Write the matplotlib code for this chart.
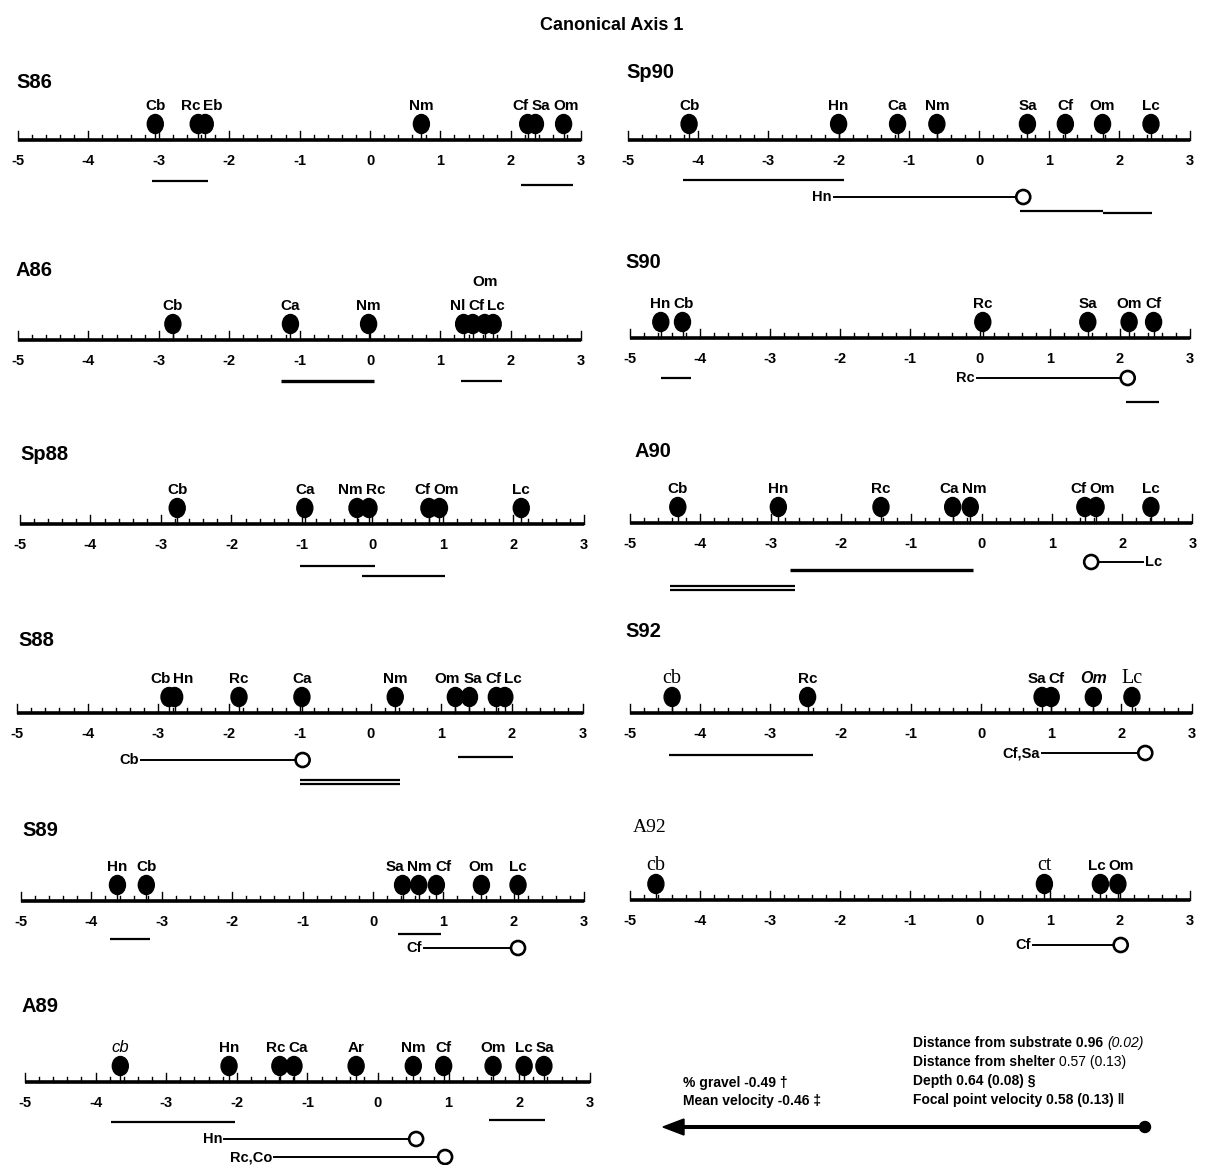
import matplotlib
matplotlib.use("Agg")
import matplotlib.pyplot as plt
from matplotlib.patches import Ellipse, Polygon
import numpy as np

W, H, DPI = 1216, 1165, 100
plt.rcParams['font.family'] = ['Liberation Sans', 'DejaVu Sans']

# ------------------------------------------------------------------ data
tick_values = [-5, -4, -3, -2, -1, 0, 1, 2, 3]
tick_labels = ["-5", "-4", "-3", "-2", "-1", "0", "1", "2", "3"]

S86_species = ["Cb", "Rc", "Eb", "Nm", "Cf", "Sa", "Om"]
S86_scores = [-3.05, -2.44, -2.34, 0.73, 2.24, 2.35, 2.75]
S86_groups = [(-3.1, -2.3), (2.15, 2.88)]
S86_links = []

A86_species = ["Cb", "Ca", "Nm", "Nl", "Cf", "Om", "Lc"]
A86_scores = [-2.80, -1.13, -0.02, 1.33, 1.46, 1.63, 1.75]
A86_groups = [(-1.27, 0.06), (1.29, 1.87)]
A86_links = []

Sp88_species = ["Cb", "Ca", "Nm", "Rc", "Cf", "Om", "Lc"]
Sp88_scores = [-2.77, -0.96, -0.22, -0.05, 0.80, 0.95, 2.11]
Sp88_groups = [(-1.03, 0.03), (-0.15, 1.03)]
Sp88_links = []

S88_species = ["Cb", "Hn", "Rc", "Ca", "Nm", "Om", "Sa", "Cf", "Lc"]
S88_scores = [-2.85, -2.77, -1.86, -0.97, 0.35, 1.20, 1.40, 1.78, 1.90]
S88_groups = [(1.24, 2.02), (-1.0, 0.42), (-1.0, 0.42)]
S88_links = [("Cb", -3.24, -0.96)]

S89_species = ["Hn", "Cb", "Sa", "Nm", "Cf", "Om", "Lc"]
S89_scores = [-3.63, -3.22, 0.42, 0.65, 0.90, 1.54, 2.06]
S89_groups = [(-3.73, -3.17), (0.36, 0.97)]
S89_links = [("Cf", 0.72, 2.06)]

A89_species = ["cb", "Hn", "Rc", "Ca", "Ar", "Nm", "Cf", "Om", "Lc", "Sa"]
A89_scores = [-3.65, -2.11, -1.39, -1.19, -0.31, 0.50, 0.93, 1.63, 2.07, 2.35]
A89_groups = [(-3.78, -2.03), (1.57, 2.36)]
A89_links = [("Hn", -2.18, 0.54), ("Rc,Co", -1.47, 0.95)]

Sp90_species = ["Cb", "Hn", "Ca", "Nm", "Sa", "Cf", "Om", "Lc"]
Sp90_scores = [-4.13, -2.00, -1.16, -0.60, 0.69, 1.23, 1.76, 2.45]
Sp90_groups = [(-4.22, -1.93), (0.59, 1.77), (1.77, 2.47)]
Sp90_links = [("Hn", -2.07, 0.63)]

S90_species = ["Hn", "Cb", "Rc", "Sa", "Om", "Cf"]
S90_scores = [-4.56, -4.25, 0.04, 1.54, 2.13, 2.48]
S90_groups = [(-4.56, -4.13), (2.08, 2.55)]
S90_links = [("Rc", -0.05, 2.11)]

A90_species = ["Cb", "Hn", "Rc", "Ca", "Nm", "Cf", "Om", "Lc"]
A90_scores = [-4.32, -2.89, -1.43, -0.41, -0.16, 1.47, 1.63, 2.41]
A90_groups = [(-2.72, -0.12), (-4.43, -2.65), (-4.43, -2.65)]
A90_links = [("Lc", 2.30, 1.56)]

S92_species = ["cb", "Rc", "Sa", "Cf", "Om", "Lc"]
S92_scores = [-4.40, -2.47, 0.87, 1.00, 1.60, 2.15]
S92_groups = [(-4.45, -2.40)]
S92_links = [("Cf,Sa", 0.87, 2.34)]

A92_species = ["cb", "ct", "Lc", "Om"]
A92_scores = [-4.63, 0.92, 1.72, 1.97]
A92_groups = []
A92_links = [("Cf", 0.76, 2.01)]

# ------------------------------------------------------------------ layout (pixels)
panels = [
    dict(name="S86", sp=S86_species, sc=S86_scores, gr=S86_groups, ln=S86_links,
         x0=18, u=70.4, y=140, t=(16, 82), grow=[41, 45], glw=[1.6, 1.6], lrow=[]),
    dict(name="A86", sp=A86_species, sc=A86_scores, gr=A86_groups, ln=A86_links,
         x0=18, u=70.4, y=340, t=(16, 270), grow=[41, 41], glw=[2.4, 1.6], lrow=[],
         raised=["Om"]),
    dict(name="Sp88", sp=Sp88_species, sc=Sp88_scores, gr=Sp88_groups, ln=Sp88_links,
         x0=20, u=70.5, y=524, t=(20, 455), grow=[42, 52], glw=[1.6, 1.6], lrow=[]),
    dict(name="S88", sp=S88_species, sc=S88_scores, gr=S88_groups, ln=S88_links,
         x0=17, u=70.7, y=713, t=(18, 641), grow=[44, 67, 71], glw=[1.6, 1.6, 1.6], lrow=[47]),
    dict(name="S89", sp=S89_species, sc=S89_scores, gr=S89_groups, ln=S89_links,
         x0=21, u=70.4, y=901, t=(22, 830), grow=[38, 33], glw=[1.6, 1.6], lrow=[47]),
    dict(name="A89", sp=A89_species, sc=A89_scores, gr=A89_groups, ln=A89_links,
         x0=25, u=70.6, y=1082, t=(22, 1006), grow=[40, 38], glw=[1.6, 1.6], lrow=[57, 75],
         styles={"cb": dict(style="italic", weight="normal", size=12)}),
    dict(name="Sp90", sp=Sp90_species, sc=Sp90_scores, gr=Sp90_groups, ln=Sp90_links,
         x0=628, u=70.2, y=140, t=(626, 73), grow=[40, 71, 73], glw=[1.6, 1.6, 1.6], lrow=[57]),
    dict(name="S90", sp=S90_species, sc=S90_scores, gr=S90_groups, ln=S90_links,
         x0=630, u=70.0, y=338, t=(625, 262), grow=[40, 64], glw=[1.6, 1.6], lrow=[40]),
    dict(name="A90", sp=A90_species, sc=A90_scores, gr=A90_groups, ln=A90_links,
         x0=630, u=70.3, y=523, t=(634, 452), grow=[47, 63, 67], glw=[2.4, 1.6, 1.6], lrow=[39]),
    dict(name="S92", sp=S92_species, sc=S92_scores, gr=S92_groups, ln=S92_links,
         x0=630, u=70.2, y=713, t=(625, 632), grow=[42], glw=[1.6], lrow=[40],
         styles={"cb": dict(family="Liberation Serif", weight="normal", size=14.5),
                 "Lc": dict(family="Liberation Serif", weight="normal", size=14.5),
                 "Om": dict(style="italic", weight="bold", size=11.5)}),
    dict(name="A92", sp=A92_species, sc=A92_scores, gr=A92_groups, ln=A92_links,
         x0=630, u=70.0, y=900, t=(633, 828), grow=[], glw=[], lrow=[45],
         styles={"cb": dict(family="Liberation Serif", weight="normal", size=14.5),
                 "ct": dict(family="Liberation Serif", weight="normal", size=14.5)},
         title_style=dict(family="Liberation Serif", weight="normal", size=14)),
]

fig = plt.figure(figsize=(W / DPI, H / DPI), dpi=DPI)
fig.patch.set_facecolor("white")

YTOP, YBOT = 80, 90

fig.text(612 / W, 1 - 25 / H, "Canonical Axis 1", ha="center", va="center",
         fontsize=13, fontweight="bold")

label_objs = []
for p in panels:
    x0, u, y = p["x0"], p["u"], p["y"]
    left = x0 - 0.5 * u
    ax = fig.add_axes([left / W, 1 - (y + YBOT) / H, 9 * u / W, (YTOP + YBOT) / H])
    ax.set_xlim(-5.5, 3.5)
    ax.set_ylim(-YBOT, YTOP)
    ax.axis("off")

    ts = dict(fontsize=14.5, fontweight="bold")
    if "title_style" in p:
        s = p["title_style"]
        ts = dict(fontsize=s["size"], fontweight=s["weight"], family=s["family"])
    fig.text(p["t"][0] / W, 1 - p["t"][1] / H, p["name"], ha="left", va="center", **ts)

    # axis line and ticks
    ax.plot([-5, 3], [0, 0], color="black", lw=2.6, solid_capstyle="butt")
    minor = np.round(np.arange(-5, 3.0001, 0.2), 2)
    for t in minor:
        h = 9 if abs(t - round(t)) < 1e-6 else 5
        ax.plot([t, t], [0, h], color="black", lw=1.0)
    for tv, tl in zip(tick_values, tick_labels):
        ax.text(tv, -21, tl, ha="center", va="center", fontsize=10.5, fontweight="bold")

    # dots
    for s, v in zip(p["sp"], p["sc"]):
        ax.plot([v, v], [0, 10], color="black", lw=1.0)
        ax.add_patch(Ellipse((v, 16), 16 / u, 19, facecolor="black", edgecolor="black",
                             clip_on=False, zorder=3))

    # non-significant groupings
    for (a, b), r, lw in zip(p["gr"], p["grow"], p["glw"]):
        ax.plot([a, b], [-r, -r], color="black", lw=lw, solid_capstyle="butt")

    # links with open circles
    for (lab, start, circ), r in zip(p["ln"], p["lrow"]):
        ax.plot([start, circ], [-r, -r], color="black", lw=1.4)
        ax.add_patch(Ellipse((circ, -r), 14 / u, 14, facecolor="white", edgecolor="black",
                             lw=1.9, clip_on=False, zorder=4))
        if start < circ:
            ax.text(start - 2 / u, -r, lab, ha="right", va="center", fontsize=10.5,
                    fontweight="bold")
        else:
            ax.text(start + 2 / u, -r, lab, ha="left", va="center", fontsize=10.5,
                    fontweight="bold")

    # species labels
    styles = p.get("styles", {})
    raised = p.get("raised", [])
    objs = []
    for s, v in zip(p["sp"], p["sc"]):
        st = styles.get(s, {})
        kw = dict(fontsize=st.get("size", 11), fontweight=st.get("weight", "bold"),
                  fontstyle=st.get("style", "normal"))
        if "family" in st:
            kw["family"] = st["family"]
        yy = 54 if s in raised else 30
        t = ax.text(v, yy, s, ha="center", va="baseline", **kw)
        objs.append((t, v, s in raised))
    label_objs.append((p, objs))

# spread labels so they do not overlap
fig.canvas.draw()
renderer = fig.canvas.get_renderer()
for p, objs in label_objs:
    u = p["u"]
    items = [(t, v) for t, v, r in objs if not r]
    if not items:
        continue
    xs = np.array([v for _, v in items]) * u
    ws = np.array([t.get_window_extent(renderer).width for t, _ in items])
    order = np.argsort(xs)
    pos = xs[order].copy()
    w = ws[order]
    for _ in range(300):
        moved = False
        for i in range(len(pos) - 1):
            need = (w[i] + w[i + 1]) / 2 + 3
            d = pos[i + 1] - pos[i]
            if d < need - 1e-6:
                sh = (need - d) / 2
                pos[i] -= sh
                pos[i + 1] += sh
                moved = True
        if not moved:
            break
    for k, idx in enumerate(order):
        t, _ = items[idx]
        t.set_x(pos[k] / u)

# ------------------------------------------------------------------ legend block
lax = fig.add_axes([0, 0, 1, 1])
lax.set_xlim(0, W)
lax.set_ylim(H, 0)
lax.axis("off")
lax.plot([680, 1145], [1127, 1127], color="black", lw=2.9, solid_capstyle="butt")
lax.add_patch(Polygon([[663, 1127], [684, 1119], [684, 1135]], closed=True,
                      facecolor="black", edgecolor="black"))
lax.add_patch(Ellipse((1145, 1127), 11, 11, facecolor="black", edgecolor="black"))

lax.text(683, 1083, "% gravel -0.49 \u2020", ha="left", va="center", fontsize=10,
         fontweight="bold")
lax.text(683, 1101, "Mean velocity -0.46 \u2021", ha="left", va="center", fontsize=10,
         fontweight="bold")

right_lines = [
    (1043, [("Distance from substrate 0.96 ", "bold", "normal"), ("(0.02)", "normal", "italic")]),
    (1062, [("Distance from shelter ", "bold", "normal"), ("0.57 (0.13)", "normal", "normal")]),
    (1081, [("Depth 0.64 (0.08) \u00a7", "bold", "normal")]),
    (1100, [("Focal point velocity 0.58 (0.13) \u2016", "bold", "normal")]),
]
fig.canvas.draw()
renderer = fig.canvas.get_renderer()
for yy, runs in right_lines:
    xx = 913
    for txt, wgt, sty in runs:
        t = lax.text(xx, yy, txt, ha="left", va="center", fontsize=10, fontweight=wgt,
                     fontstyle=sty)
        bb = t.get_window_extent(renderer)
        xx += bb.width

fig.savefig("out.png", dpi=DPI, facecolor="white")
